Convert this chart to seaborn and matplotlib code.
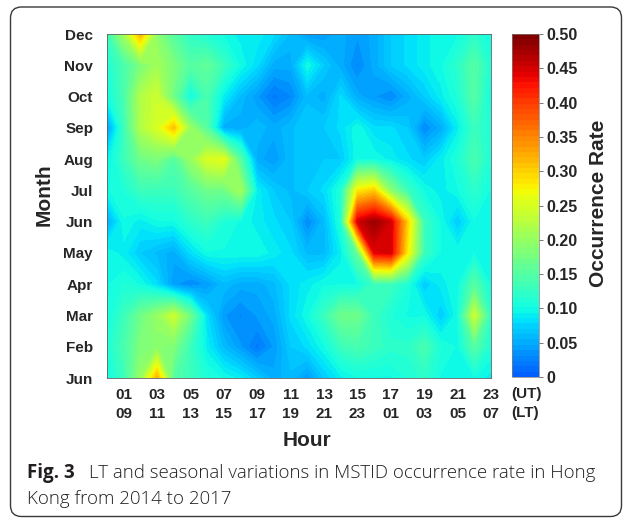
import numpy as np
import matplotlib
matplotlib.use("Agg")
import matplotlib.pyplot as plt
import seaborn as sns
from matplotlib.colors import ListedColormap, Normalize
from matplotlib.cm import ScalarMappable
from matplotlib.patches import FancyBboxPatch
from matplotlib.transforms import IdentityTransform

# ---------------- data ----------------
hours = list(range(24))                      # UT hour
months = list(range(1, 13))                  # Jan .. Dec (bottom -> top)
month_labels = ["Jun", "Feb", "Mar", "Apr", "May", "Jun",
                "Jul", "Aug", "Sep", "Oct", "Nov", "Dec"]
ut_labels = ["01", "03", "05", "07", "09", "11", "13", "15", "17", "19", "21", "23"]
lt_labels = ["09", "11", "13", "15", "17", "19", "21", "23", "01", "03", "05", "07"]
cbar_ticks = [0, 0.05, 0.10, 0.15, 0.20, 0.25, 0.30, 0.35, 0.40, 0.45, 0.50]
cbar_labels = ["0", "0.05", "0.10", "0.15", "0.20", "0.25", "0.30", "0.35", "0.40", "0.45", "0.50"]

rate_jan = [0.10, 0.13, 0.20, 0.32, 0.15, 0.13, 0.11, 0.10, 0.09, 0.07, 0.05, 0.06,
            0.04, 0.07, 0.09, 0.10, 0.10, 0.10, 0.11, 0.12, 0.10, 0.10, 0.10, 0.09]
rate_feb = [0.11, 0.14, 0.18, 0.19, 0.18, 0.13, 0.09, 0.06, 0.04, 0.02, 0.04, 0.07,
            0.08, 0.10, 0.13, 0.14, 0.13, 0.12, 0.12, 0.14, 0.11, 0.10, 0.15, 0.11]
rate_mar = [0.10, 0.13, 0.17, 0.20, 0.24, 0.17, 0.08, 0.04, 0.03, 0.04, 0.05, 0.08,
            0.10, 0.13, 0.17, 0.17, 0.13, 0.11, 0.10, 0.10, 0.07, 0.10, 0.24, 0.12]
rate_apr = [0.10, 0.11, 0.10, 0.08, 0.04, 0.03, 0.04, 0.06, 0.05, 0.05, 0.06, 0.08,
            0.09, 0.10, 0.10, 0.10, 0.13, 0.13, 0.11, 0.07, 0.09, 0.10, 0.15, 0.10]
rate_may = [0.10, 0.09, 0.07, 0.06, 0.05, 0.08, 0.10, 0.10, 0.10, 0.10, 0.09, 0.08,
            0.06, 0.06, 0.09, 0.16, 0.44, 0.45, 0.28, 0.13, 0.10, 0.10, 0.10, 0.10]
rate_jun = [0.05, 0.10, 0.09, 0.10, 0.10, 0.12, 0.13, 0.11, 0.10, 0.09, 0.08, 0.07,
            0.03, 0.06, 0.11, 0.45, 0.48, 0.45, 0.30, 0.13, 0.10, 0.07, 0.10, 0.10]
rate_jul = [0.10, 0.11, 0.13, 0.13, 0.13, 0.15, 0.17, 0.17, 0.21, 0.09, 0.07, 0.06,
            0.07, 0.08, 0.11, 0.28, 0.30, 0.19, 0.13, 0.10, 0.09, 0.10, 0.12, 0.10]
rate_aug = [0.09, 0.13, 0.17, 0.18, 0.15, 0.20, 0.25, 0.26, 0.15, 0.05, 0.04, 0.06,
            0.07, 0.07, 0.07, 0.10, 0.10, 0.09, 0.08, 0.07, 0.09, 0.11, 0.14, 0.11]
rate_sep = [0.04, 0.13, 0.22, 0.25, 0.31, 0.20, 0.15, 0.05, 0.05, 0.06, 0.05, 0.06,
            0.07, 0.07, 0.08, 0.10, 0.08, 0.08, 0.07, 0.03, 0.05, 0.09, 0.13, 0.11]
rate_oct = [0.10, 0.14, 0.22, 0.24, 0.17, 0.10, 0.14, 0.09, 0.06, 0.04, 0.02, 0.03,
            0.06, 0.05, 0.08, 0.05, 0.04, 0.03, 0.05, 0.07, 0.09, 0.11, 0.15, 0.10]
rate_nov = [0.11, 0.14, 0.18, 0.21, 0.18, 0.15, 0.16, 0.13, 0.10, 0.08, 0.05, 0.05,
            0.10, 0.07, 0.05, 0.03, 0.05, 0.07, 0.08, 0.09, 0.10, 0.12, 0.15, 0.11]
rate_dec = [0.13, 0.21, 0.32, 0.19, 0.15, 0.12, 0.11, 0.10, 0.09, 0.09, 0.08, 0.06,
            0.04, 0.04, 0.05, 0.04, 0.05, 0.07, 0.08, 0.09, 0.10, 0.10, 0.12, 0.10]

Z = np.array([rate_jan, rate_feb, rate_mar, rate_apr, rate_may, rate_jun,
              rate_jul, rate_aug, rate_sep, rate_oct, rate_nov, rate_dec])

# ---------------- style ----------------
sns.set_theme(style="white")
plt.rcParams['font.family'] = ['Liberation Sans', 'DejaVu Sans']

jet = matplotlib.colormaps["jet"]
cmap = ListedColormap(jet(np.linspace(0.22, 1.0, 64)))
norm = Normalize(0, 0.5)

W, H = 632, 520
fig = plt.figure(figsize=(W / 100, H / 100), dpi=100)
fig.patch.set_facecolor("white")

# rounded caption frame
frame = FancyBboxPatch((10.5, 3.5), 611, 509.5,
                       boxstyle="round,pad=0,rounding_size=11",
                       transform=IdentityTransform(), facecolor="none",
                       edgecolor="#3a3a3a", linewidth=1.0)
fig.add_artist(frame)

ax = fig.add_axes([107 / W, (H - 378) / H, 384 / W, 344 / H])
levels = np.linspace(0, 0.5, 65)
ax.contourf(hours, months, Z, levels=levels, cmap=cmap, norm=norm, extend="both")
ax.set_xlim(0, 23)
ax.set_ylim(1, 12)

ax.set_yticks(months)
ax.set_yticklabels(month_labels, fontsize=11, fontweight="bold")
ax.set_xticks(list(range(1, 24, 2)))
ax.set_xticklabels([f"{u}\n{l}" for u, l in zip(ut_labels, lt_labels)],
                   fontsize=11, fontweight="bold", linespacing=1.45)
ax.tick_params(axis="y", length=0, pad=10)
ax.tick_params(axis="x", length=0, pad=7)
for s in ax.spines.values():
    s.set_linewidth(0.6)
    s.set_color("#606060")

fig.text(511 / W, (H - 403.5) / H, "(UT)\n(LT)", fontsize=11, fontweight="bold",
         ha="left", va="center", linespacing=1.45)
fig.text(307 / W, (H - 440) / H, "Hour", fontsize=15, fontweight="bold",
         ha="center", va="center")
fig.text(44 / W, (H - 195) / H, "Month", fontsize=15, fontweight="bold",
         ha="center", va="center", rotation=90)

# colorbar
cax = fig.add_axes([512 / W, (H - 377) / H, 27 / W, 343 / H])
cb = fig.colorbar(ScalarMappable(norm=norm, cmap=cmap), cax=cax)
cb.set_ticks(cbar_ticks)
cb.set_ticklabels(cbar_labels)
cb.outline.set_linewidth(0.5)
cb.outline.set_edgecolor("#808080")
cax.tick_params(length=3, width=0.6, color="#606060", pad=2, labelsize=11.5)
for t in cax.get_yticklabels():
    t.set_fontweight("bold")
fig.text(598 / W, (H - 203) / H, "Occurrence Rate", fontsize=15, fontweight="bold",
         ha="center", va="center", rotation=90)

# caption
cap_font = ["Open Sans", "DejaVu Sans"]
fig.text(27 / W, (H - 478) / H, "Fig. 3", fontsize=13.5, fontweight="bold",
         family=cap_font, ha="left", va="baseline", color="#231f20")
fig.text(89 / W, (H - 478) / H,
         "LT and seasonal variations in MSTID occurrence rate in Hong",
         fontsize=13.4, fontweight="light", family=cap_font, ha="left",
         va="baseline", color="#231f20")
fig.text(27 / W, (H - 504.5) / H, "Kong from 2014 to 2017", fontsize=13.4,
         fontweight="light", family=cap_font, ha="left", va="baseline",
         color="#231f20")

fig.savefig("out.png", dpi=100)
